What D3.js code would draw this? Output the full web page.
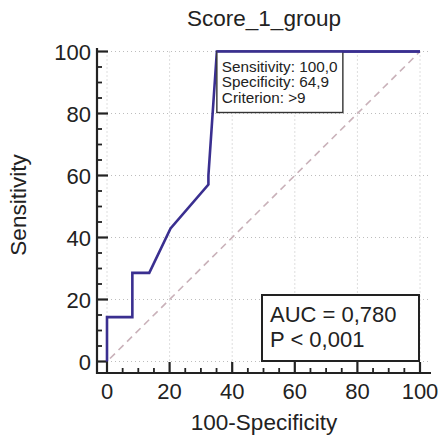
<!DOCTYPE html>
<html>
<head>
<meta charset="utf-8">
<script src="https://cdn.jsdelivr.net/npm/d3@7"></script>
<style>
  body { margin: 0; background: #fff; }
  text { font-family: "Liberation Sans", Arial, sans-serif; fill: #222; }
</style>
</head>
<body>
<div id="chart"></div>
<script>
const layout = {
    width: 440,
    height: 439,
    left: 107,
    right: 420,
    top: 51.5,
    bottom: 361.5,
    axisX: 97,
    axisY: 373
};

// ROC curve points: 100-Specificity, Sensitivity
const fpr = [0, 0, 8.1, 8.1, 13.5, 20.3, 32.4, 32.4, 35.1, 100];
const sens = [0, 14.3, 14.3, 28.6, 28.6, 42.9, 57.1, 60, 100, 100];
const majorTicks = [0, 20, 40, 60, 80, 100];
const minorTicks = d3.range(0, 101, 5).filter(d => d % 20 != 0);
const criterionLines = ["Sensitivity: 100,0", "Specificity: 64,9", "Criterion: >9"];
const statLines = ["AUC = 0,780", "P < 0,001"];

const svg = d3.select("#chart").append("svg")
    .attr("width", layout.width)
    .attr("height", layout.height);

const x = d3.scaleLinear().domain([0, 100]).range([layout.left, layout.right]);
const y = d3.scaleLinear().domain([0, 100]).range([layout.bottom, layout.top]);

const ink = "#222";

// dotted grid
svg.append("g").selectAll("line")
    .data(majorTicks).enter().append("line")
    .attr("x1", d => x(d)).attr("x2", d => x(d))
    .attr("y1", y(100)).attr("y2", y(0))
    .attr("stroke", "#bdbdbd").attr("stroke-width", 1).attr("stroke-dasharray", "1,3");
svg.append("g").selectAll("line")
    .data(majorTicks).enter().append("line")
    .attr("y1", d => y(d)).attr("y2", d => y(d))
    .attr("x1", x(0)).attr("x2", 431)
    .attr("stroke", "#bdbdbd").attr("stroke-width", 1).attr("stroke-dasharray", "1,3");

// reference diagonal
svg.append("line")
    .attr("x1", x(0) + 3).attr("y1", y(0) - 3)
    .attr("x2", x(100)).attr("y2", y(100))
    .attr("stroke", "#c9b1b9").attr("stroke-width", 1.6).attr("stroke-dasharray", "7,5");

// y axis: ticks point into the plot
const yAxis = svg.append("g");
yAxis.selectAll("line.minor").data(minorTicks).enter().append("line")
    .attr("x1", layout.axisX).attr("x2", layout.axisX + 5)
    .attr("y1", d => y(d)).attr("y2", d => y(d))
    .attr("stroke", ink).attr("stroke-width", 1.8);
yAxis.selectAll("line.major").data(majorTicks).enter().append("line")
    .attr("x1", layout.axisX).attr("x2", layout.axisX + 11)
    .attr("y1", d => y(d)).attr("y2", d => y(d))
    .attr("stroke", ink).attr("stroke-width", 2.2);
yAxis.append("line")
    .attr("x1", layout.axisX).attr("x2", layout.axisX).attr("y1", 48).attr("y2", layout.axisY + 1)
    .attr("stroke", ink).attr("stroke-width", 2.2);
yAxis.selectAll("text").data(majorTicks).enter().append("text")
    .attr("x", layout.axisX - 6).attr("y", d => y(d) + 8)
    .attr("text-anchor", "end").attr("font-size", 22)
    .text(d => d);

// x axis: ticks point up
const xAxis = svg.append("g");
xAxis.selectAll("line.minor").data(minorTicks).enter().append("line")
    .attr("x1", d => x(d)).attr("x2", d => x(d))
    .attr("y1", layout.axisY).attr("y2", layout.axisY - 5)
    .attr("stroke", ink).attr("stroke-width", 1.8);
xAxis.selectAll("line.major").data(majorTicks).enter().append("line")
    .attr("x1", d => x(d)).attr("x2", d => x(d))
    .attr("y1", layout.axisY).attr("y2", layout.axisY - 11)
    .attr("stroke", ink).attr("stroke-width", 2.2);
xAxis.append("line")
    .attr("x1", layout.axisX - 1).attr("x2", 431).attr("y1", layout.axisY).attr("y2", layout.axisY)
    .attr("stroke", ink).attr("stroke-width", 2.2);
xAxis.selectAll("text").data(majorTicks).enter().append("text")
    .attr("x", d => x(d)).attr("y", layout.axisY + 26)
    .attr("text-anchor", "middle").attr("font-size", 22)
    .text(d => d);

// ROC curve
const pts = fpr.map((d, i) => [d, sens[i]]);
const line = d3.line().x(d => x(d[0])).y(d => y(d[1]));
svg.append("path")
    .datum(pts)
    .attr("d", line)
    .attr("fill", "none")
    .attr("stroke", "#3a2f90")
    .attr("stroke-width", 2.6);

// criterion box
const cb = svg.append("g");
cb.append("rect")
    .attr("x", x(35.1)).attr("y", y(100))
    .attr("width", 126).attr("height", 61)
    .attr("fill", "#fff").attr("stroke", "#333").attr("stroke-width", 1.4);
cb.selectAll("text").data(criterionLines).enter().append("text")
    .attr("x", x(35.1) + 5).attr("y", (d, i) => y(100) + 20 + i * 15.8)
    .attr("font-size", 15.3)
    .text(d => d);
// curve's top segment stays above the box edge
svg.append("path")
    .datum(pts.slice(8))
    .attr("d", line)
    .attr("fill", "none").attr("stroke", "#3a2f90").attr("stroke-width", 2.6);

// AUC box
const ab = svg.append("g");
ab.append("rect")
    .attr("x", 262).attr("y", 295)
    .attr("width", 157).attr("height", 66)
    .attr("fill", "#fff").attr("stroke", ink).attr("stroke-width", 2);
ab.selectAll("text").data(statLines).enter().append("text")
    .attr("x", 270).attr("y", (d, i) => 322 + i * 25)
    .attr("font-size", 22)
    .text(d => d);

// titles
svg.append("text")
    .attr("x", 264).attr("y", 26)
    .attr("text-anchor", "middle").attr("font-size", 22.5)
    .text("Score_1_group");
svg.append("text")
    .attr("x", 264).attr("y", 430)
    .attr("text-anchor", "middle").attr("font-size", 22.5)
    .text("100-Specificity");
svg.append("text")
    .attr("transform", "translate(26,205) rotate(-90)")
    .attr("text-anchor", "middle").attr("font-size", 22.5)
    .text("Sensitivity");
</script>
</body>
</html>
